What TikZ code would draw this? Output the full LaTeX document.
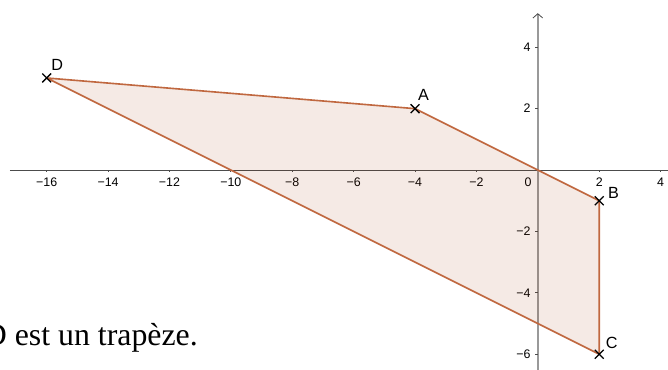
\documentclass[tikz,border=0pt]{standalone}
\usepackage{fontspec}
\setmainfont{Liberation Serif}
\setsansfont{Liberation Sans}
\usetikzlibrary{arrows.meta,shapes.misc}

\definecolor{trapfill}{RGB}{153,51,0}
\definecolor{trapline}{RGB}{192,104,64}
\newcommand{\axnum}[1]{\ifnum#1<0 −\number\numexpr-#1\relax\else#1\fi}

\begin{document}
\begin{tikzpicture}[
    axis/.style={draw=black!70, line width=0.7pt},
    yaxis/.style={draw=black!40, line width=1.6pt},
    side/.style={draw=trapline, line width=1.5pt, line join=round},
    ticklabel/.style={font=\fontsize{11.5}{13}\sffamily, inner sep=0pt},
    pt/.style={cross out, draw=black, line width=1.2pt, minimum size=7pt, inner sep=0pt},
    ptlabel/.style={font=\fontsize{15}{17}\sffamily, inner sep=0pt, anchor=south west}
]
\useasboundingbox (-17.52,-6.51) rectangle (4.24,5.54);

% Axes
\coordinate (xstart) at (-17.2,0);
\coordinate (xend) at (4.6,0);
\coordinate (ystart) at (0,-7);
\coordinate (yend) at (0,5.11);
\draw[axis] (xstart) -- (xend);
\draw[yaxis, -{Straight Barb[length=4pt, width=9pt, line width=0.7pt, color=black!75]}] (ystart) -- (yend);

\foreach \x in {-16,-14,...,-2,2,4} {
  \draw[axis] (\x,0) -- (\x,-0.07);
  \node[ticklabel, anchor=base] (xl\x) at (\x,-0.52) {\axnum{\x}};
}
\foreach \y in {-6,-4,-2,2,4} {
  \draw[axis] (0,\y) -- (-0.1,\y);
  \node[ticklabel, anchor=east] (yl\y) at (-0.23,\y) {\axnum{\y}};
}
\node[ticklabel, anchor=base east] (orig) at (-0.2,-0.52) {0};

% Trapezoid
\coordinate (A) at (-4,2);
\coordinate (B) at (2,-1);
\coordinate (C) at (2,-6);
\coordinate (D) at (-16,3);
\fill[trapfill, fill opacity=0.1] (D) -- (A) -- (B) -- (C) -- cycle;
\draw[side] (D) -- (A) -- (B) -- (C) -- cycle;

% Points
\foreach \p/\dx/\dy in {A/0.09/0.25, B/0.28/0.06, C/0.21/0.16, D/0.15/0.23} {
  \node[pt] (x\p) at (\p) {};
  \node[ptlabel] (l\p) at ([shift={(\dx,\dy)}]\p) {\p};
}

% Caption
\node[anchor=base west, inner sep=0pt, font=\fontsize{29.5}{32}\selectfont] (caption) at (-18.05,-5.70) {D est un trapèze.};

\end{tikzpicture}
\end{document}
